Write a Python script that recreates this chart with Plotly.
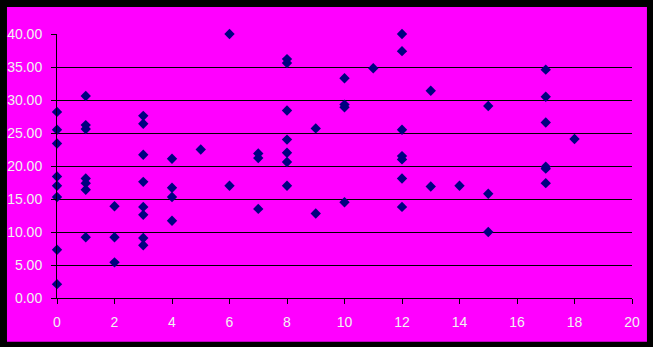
import plotly.graph_objects as go

x_vals = [0, 0, 0, 0, 0, 0, 0, 0,
          1, 1, 1, 1, 1, 1, 1,
          2, 2, 2,
          3, 3, 3, 3, 3, 3, 3, 3,
          4, 4, 4, 4,
          5,
          6, 6,
          7, 7, 7,
          8, 8, 8, 8, 8, 8, 8,
          9, 9,
          10, 10, 10, 10,
          11,
          12, 12, 12, 12, 12, 12, 12,
          13, 13,
          14,
          15, 15, 15,
          17, 17, 17, 17, 17, 17,
          18]
y_vals = [28.2, 25.5, 23.4, 18.4, 17.0, 15.3, 7.3, 2.1,
          30.6, 26.2, 25.6, 18.1, 17.4, 16.4, 9.2,
          13.9, 9.2, 5.4,
          27.6, 26.4, 21.7, 17.6, 13.8, 12.6, 9.1, 8.0,
          21.1, 16.7, 15.3, 11.7,
          22.5,
          40.0, 17.0,
          21.9, 21.2, 13.5,
          36.2, 35.6, 28.4, 24.0, 22.0, 20.6, 17.0,
          25.7, 12.8,
          33.3, 29.3, 28.9, 14.5,
          34.8,
          40.0, 37.4, 25.5, 21.5, 21.0, 18.1, 13.8,
          31.4, 16.9,
          17.0,
          29.1, 15.8, 10.0,
          34.6, 30.5, 26.6, 19.9, 19.6, 17.4,
          24.1]

x_ticks = [0, 2, 4, 6, 8, 10, 12, 14, 16, 18, 20]
y_ticks = [0, 5, 10, 15, 20, 25, 30, 35, 40]

fig = go.Figure()
fig.add_trace(go.Scatter(
    x=x_vals, y=y_vals, mode="markers",
    marker=dict(symbol="diamond", size=8, color="#000080", line=dict(width=0)),
    showlegend=False, cliponaxis=False,
))

fig.update_layout(
    width=653, height=347,
    margin=dict(l=57, r=21, t=34, b=49),
    paper_bgcolor="#000000",
    plot_bgcolor="#FF00FF",
    font=dict(family="Liberation Sans, Arial, sans-serif", size=14, color="#F2F2F2"),
    shapes=[dict(type="rect", xref="paper", yref="paper",
                 x0=-0.087, x1=1.026, y0=-0.1655, y1=1.102,
                 fillcolor="#FF00FF", line=dict(width=0), layer="below")],
)
fig.update_xaxes(
    range=[0, 20], tickvals=x_ticks, showgrid=False, zeroline=False,
    showline=True, linecolor="#000000", linewidth=1,
    ticks="outside", ticklen=5, tickcolor="#000000", tickwidth=1,
    ticklabelstandoff=6, automargin=False,
)
fig.update_yaxes(
    range=[0, 40], tickvals=y_ticks, tickformat=".2f",
    showgrid=True, gridcolor="#000000", gridwidth=1, zeroline=False,
    showline=True, linecolor="#000000", linewidth=1,
    ticks="outside", ticklen=5, tickcolor="#000000", tickwidth=1,
    ticklabelstandoff=6, automargin=False,
)

fig.write_html("out.html")
